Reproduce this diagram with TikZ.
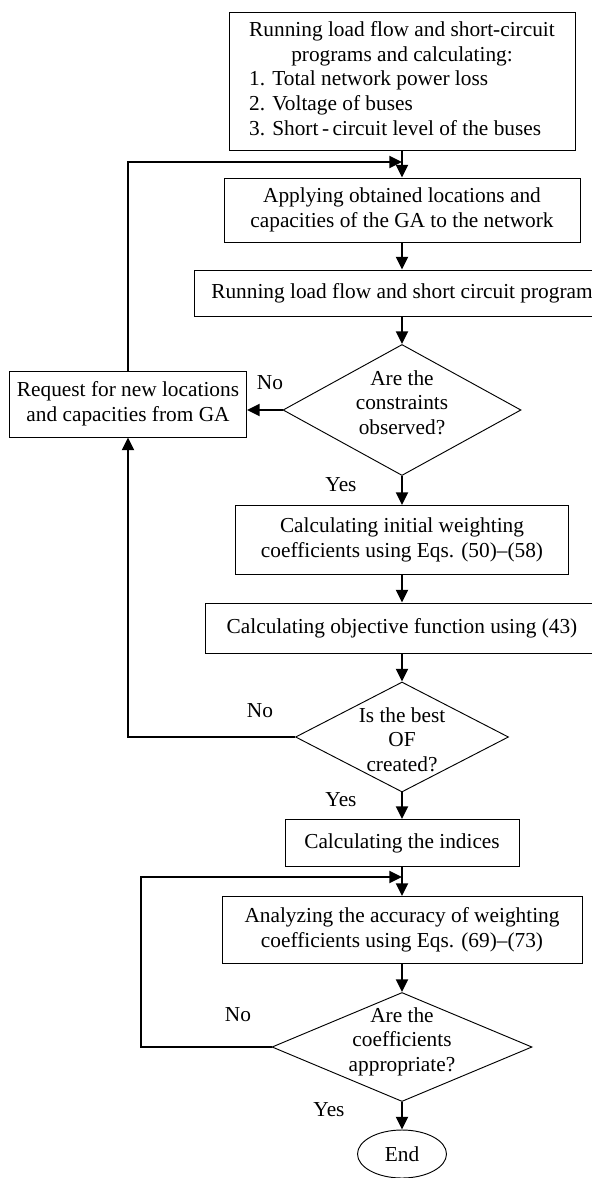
\documentclass[tikz,border=0pt]{standalone}
\usepackage{fontspec}
\setmainfont{Liberation Serif}
\usetikzlibrary{
  positioning,
  arrows.meta,
  shapes.geometric
}
% text that does not widen the decision shapes
\newcommand{\qtext}[2][0pt]{\raisebox{#1}[0pt][0pt]{\begin{tabular}{@{}c@{}}#2\end{tabular}}}

\begin{document}
\begin{tikzpicture}[
  x=0.03cm, y=-0.03cm,
  every node/.style={font=\fontsize{18.2}{21}\selectfont, align=center, inner sep=3pt},
  box/.style={
    rectangle, draw, line width=0.8pt
  },
  decision/.style={
    diamond, draw, line width=0.8pt, inner sep=0pt, aspect=2
  },
  stopnode/.style={
    ellipse, draw, line width=0.8pt
  },
  tag/.style={inner sep=0pt},
  arrow/.style={-{Triangle[length=3.8mm, width=3.6mm]}, line width=1.6pt}
]
 \useasboundingbox (0,0) rectangle (592,1178);
 \clip (0,0) rectangle (592,1178);

 % Top: first run
 \node[box, minimum width=10.38cm, minimum height=4.14cm] (b1) at (402,81)
  {\begin{tabular}{@{}l@{}}
   \multicolumn{1}{@{}c@{}}{Running load flow and short-circuit}\\
   \multicolumn{1}{@{}c@{}}{programs and calculating:}\\
   1. Total network power loss\\
   2. Voltage of buses\\
   3. Short\,-\,circuit level of the buses
   \end{tabular}};

 % GA loop
 \node[box, minimum width=10.68cm, minimum height=1.92cm] (b2) at (402,210)
  {Applying obtained locations and\\capacities of the GA to the network};
 \node[box, minimum width=12.48cm, minimum height=1.38cm] (b3) at (402,293)
  {Running load flow and short circuit program};
 \node[decision, minimum width=7.14cm, minimum height=3.93cm] (d1) at (402,410)
  {\qtext{Are the\\constraints\\observed?}};
 \node[box, minimum width=7.11cm, minimum height=1.98cm] (req) at (128,404)
  {Request for new locations\\and capacities from GA};
 \node[box, minimum width=9.99cm, minimum height=2.07cm] (b4) at (402,540)
  {Calculating initial weighting\\coefficients using Eqs. (50)--(58)};
 \node[box, minimum width=11.82cm, minimum height=1.5cm] (b5) at (402,628)
  {Calculating objective function using (43)};
 \node[decision, minimum width=6.39cm, minimum height=3.3cm] (d2) at (402,737)
  {\qtext[-0.3cm]{Is the best\\OF\\created?}};

 % Weighting check loop
 \node[box, minimum width=7.02cm, minimum height=1.41cm] (b6) at (402,843)
  {Calculating the indices};
 \node[box, minimum width=10.8cm, minimum height=2.01cm] (b7) at (402,930)
  {Analyzing the accuracy of weighting\\coefficients using Eqs. (69)--(73)};
 \node[decision, minimum width=7.8cm, minimum height=3.27cm] (d3) at (402,1047)
  {\qtext{Are the\\coefficients\\appropriate?}};
 \node[stopnode, minimum width=2.67cm, minimum height=1.44cm] (end) at (402,1154)
  {End};

 % Yes / No tags
 \node[tag] (no1) at (270,383) {No};
 \node[tag] (yes1) at (341,485) {Yes};
 \node[tag] (no2) at (260,711) {No};
 \node[tag] (yes2) at (341,800) {Yes};
 \node[tag] (no3) at (238,1015) {No};
 \node[tag] (yes3) at (329,1110) {Yes};

 \coordinate (j1) at (402,162);
 \coordinate (j2) at (402,877);
 \coordinate (k3) at (141,877);

 % Main chain
 \draw[arrow] (b1) -- (b2);
 \draw[arrow] (b2) -- (b3);
 \draw[arrow] (b3) -- (d1);
 \draw[arrow] (d1) -- (b4);
 \draw[arrow] (b4) -- (b5);
 \draw[arrow] (b5) -- (d2);
 \draw[arrow] (d2) -- (b6);
 \draw[arrow] (b6) -- (b7);
 \draw[arrow] (b7) -- (d3);
 \draw[arrow] (d3) -- (end);

 % Back loops
 \draw[arrow] (d1.west) -- (d1.west -| req.east);
 \draw[arrow] (req.north) |- (j1);
 \draw[arrow] (d2.west) -| (req.south);
 \draw[arrow] (d3.west) -| (k3) -- (j2);
\end{tikzpicture}
\end{document}
